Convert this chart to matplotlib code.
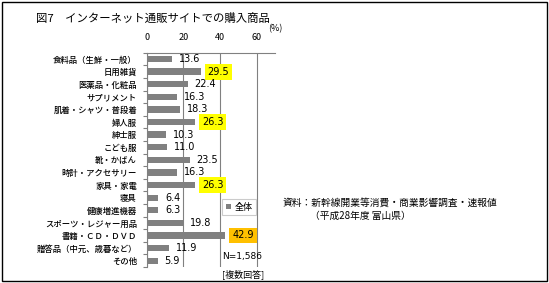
import matplotlib
matplotlib.use("Agg")
import matplotlib.pyplot as plt
from matplotlib.patches import Rectangle
import numpy as np

plt.rcParams['font.family'] = ['Noto Sans CJK JP', 'DejaVu Sans']

categories = ["食料品（生鮮・一般）", "日用雑貨", "医薬品・化粧品", "サプリメント",
              "肌着・シャツ・普段着", "婦人服", "紳士服", "こども服", "靴・かばん",
              "時計・アクセサリー", "家具・家電", "寝具", "健康増進機器",
              "スポーツ・レジャー用品", "書籍・ＣＤ・ＤＶＤ", "贈答品（中元、歳暮など）", "その他"]
values = [13.6, 29.5, 22.4, 16.3, 18.3, 26.3, 10.3, 11.0, 23.5, 16.3, 26.3, 6.4, 6.3, 19.8, 42.9, 11.9, 5.9]
highlight = {1: "#FFFF00", 5: "#FFFF00", 10: "#FFFF00", 14: "#FFC000"}
xticks = [0, 20, 40, 60]
series_name = "全体"

W, H = 549, 283
fig = plt.figure(figsize=(W / 100, H / 100), dpi=100)

# outer frame
fig.patches.append(Rectangle((2 / W, 2 / H), 545 / W, 279 / H, transform=fig.transFigure,
                             fill=False, edgecolor="black", linewidth=1.0))

ax = fig.add_axes([146.7 / W, 16 / H, 128.3 / W, 214.3 / H])
n = len(categories)
y = np.arange(n)
bars = ax.barh(y, values, height=0.5, color="#808080", label=series_name, zorder=3)
ax.set_xlim(0, 70)
ax.set_ylim(n - 0.5, -0.5)
ax.xaxis.tick_top()
ax.set_xticks(xticks)
ax.set_xticklabels([str(t) for t in xticks], fontsize=6.5)
ax.tick_params(axis="x", length=0, pad=8)
ax.set_yticks(y)
ax.set_yticklabels(categories, fontsize=6, fontweight="medium")
ax.tick_params(axis="y", which="major", length=0, pad=7)
ax.set_yticks(np.arange(-0.5, n + 0.5, 1), minor=True)
ax.tick_params(axis="y", which="minor", length=3, color="#808080", width=0.8)
for s in ["right", "bottom"]:
    ax.spines[s].set_visible(False)
for s in ["top", "left"]:
    ax.spines[s].set_color("#808080")
    ax.spines[s].set_linewidth(0.8)
ax.grid(axis="x", color="#808080", linewidth=0.8, zorder=0)
ax.set_axisbelow(True)

for i, v in enumerate(values):
    kw = {}
    if i in highlight:
        kw["bbox"] = dict(boxstyle="square,pad=0.3", facecolor=highlight[i], edgecolor="none")
    ax.annotate(f"{v:.1f}", xy=(v, i), xytext=(5, 0), textcoords="offset points",
                ha="left", va="center", fontsize=7, family="DejaVu Sans", zorder=5, **kw)

leg = ax.legend(loc="upper left", bbox_to_anchor=(222 / W, 1 - 199 / H),
                bbox_transform=fig.transFigure, fontsize=6.5, frameon=True,
                fancybox=False, handlelength=0.6, handleheight=0.6, handletextpad=0.4,
                borderpad=0.4, borderaxespad=0)
leg.get_frame().set_edgecolor("#bfbfbf")
leg.get_frame().set_linewidth(0.8)

fig.text(36 / W, 1 - 18 / H, "図7　インターネット通販サイトでの購入商品", fontsize=8.2,
         ha="left", va="center")
fig.text(268 / W, 1 - 29 / H, "(%)", fontsize=6.5, ha="left", va="center")
fig.text(222 / W, 1 - 257 / H, "N=1,586", fontsize=6.5, ha="left", va="center",
         family="DejaVu Sans")
fig.text(222 / W, 1 - 274 / H, "[複数回答]", fontsize=6.5, ha="left", va="center")
fig.text(283 / W, 1 - 203 / H, "資料：新幹線開業等消費・商業影響調査・速報値", fontsize=7,
         ha="left", va="center")
fig.text(310 / W, 1 - 216 / H, "（平成28年度 富山県）", fontsize=7, ha="left", va="center")

fig.savefig("out.png", dpi=100)
